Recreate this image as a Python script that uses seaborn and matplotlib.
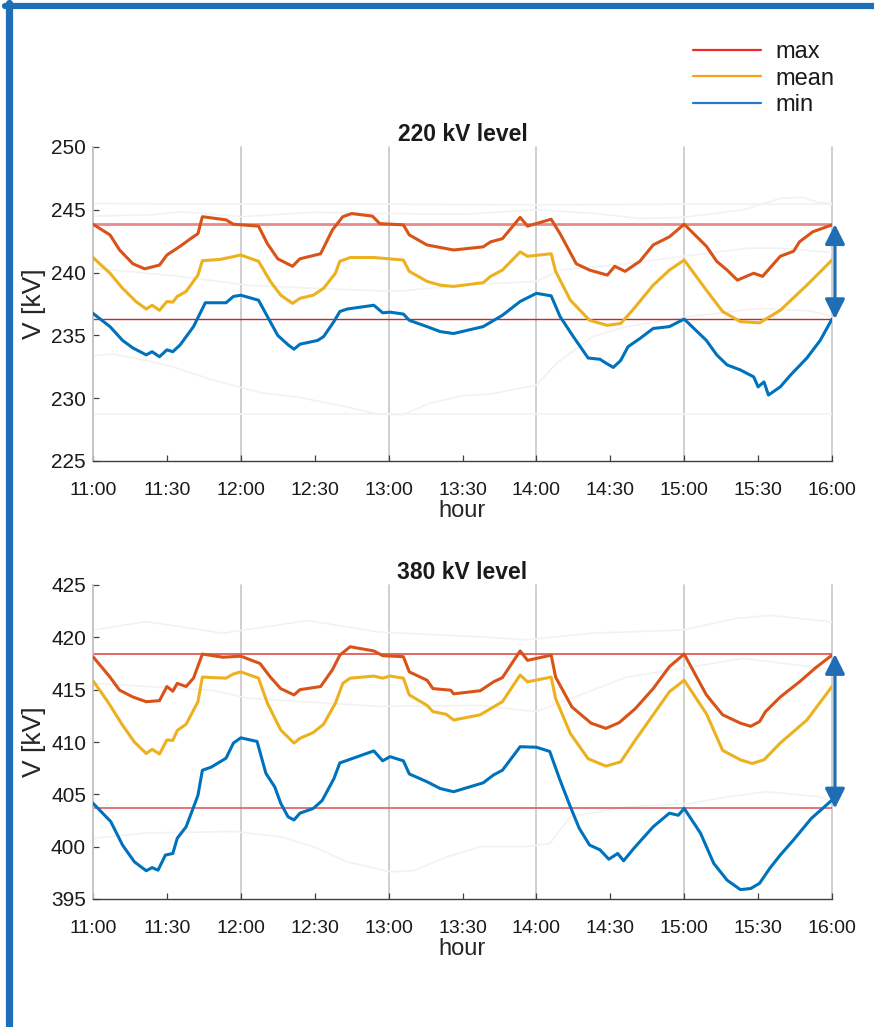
import matplotlib
matplotlib.use("Agg")
import matplotlib.pyplot as plt
import seaborn as sns
from matplotlib.lines import Line2D

# hour axis
hour_ticks = [11, 12, 13, 14, 15, 16]
hour_labels = ["11:00", "12:00", "13:00", "14:00", "15:00", "16:00"]
half_ticks = [11.5, 12.5, 13.5, 14.5, 15.5]
half_labels = ["11:30", "12:30", "13:30", "14:30", "15:30"]

# 220 kV level
t220_max = [11.0, 11.115, 11.18, 11.27, 11.35, 11.45, 11.5, 11.59, 11.66, 11.71, 11.74, 11.9, 11.95, 12.12,
            12.18, 12.25, 12.35, 12.4, 12.54, 12.62, 12.69, 12.75, 12.89, 12.94, 13.1, 13.14, 13.26, 13.44,
            13.64, 13.69, 13.77, 13.89, 13.94, 14.1, 14.16, 14.27, 14.36, 14.48, 14.53, 14.6, 14.7, 14.79,
            14.9, 15.0, 15.15, 15.22, 15.29, 15.36, 15.47, 15.53, 15.65, 15.74, 15.78, 15.87, 16.0]
v220_max = [243.85, 243.0, 241.8, 240.7, 240.3, 240.6, 241.4, 242.1, 242.7, 243.1, 244.45, 244.2, 243.85, 243.7,
            242.3, 241.1, 240.5, 241.1, 241.5, 243.4, 244.45, 244.7, 244.5, 243.9, 243.8, 243.0, 242.2, 241.8,
            242.05, 242.45, 242.7, 244.4, 243.7, 244.25, 243.1, 240.7, 240.2, 239.8, 240.5, 240.1, 240.9, 242.2,
            242.85, 243.85, 242.1, 240.9, 240.2, 239.4, 239.95, 239.7, 241.3, 241.7, 242.45, 243.25, 243.8]

t220_mean = [11.0, 11.115, 11.2, 11.29, 11.36, 11.4, 11.45, 11.5, 11.54, 11.57, 11.63, 11.71, 11.74, 11.86,
             12.0, 12.12, 12.2, 12.27, 12.35, 12.4, 12.49, 12.56, 12.64, 12.67, 12.74, 12.9, 13.1, 13.14,
             13.26, 13.35, 13.44, 13.64, 13.69, 13.77, 13.89, 13.94, 14.1, 14.13, 14.23, 14.36, 14.48, 14.57,
             14.65, 14.79, 14.9, 15.0, 15.15, 15.26, 15.38, 15.51, 15.65, 15.83, 16.0]
v220_mean = [241.2, 239.95, 238.75, 237.7, 237.1, 237.4, 237.0, 237.7, 237.65, 238.1, 238.5, 239.8, 240.95, 241.05,
             241.4, 240.9, 239.3, 238.2, 237.55, 237.95, 238.2, 238.75, 239.95, 240.9, 241.2, 241.2, 241.0, 240.1,
             239.3, 239.0, 238.9, 239.2, 239.7, 240.2, 241.65, 241.3, 241.5, 240.1, 237.8, 236.2, 235.8, 235.95,
             237.0, 239.0, 240.2, 241.0, 238.6, 236.9, 236.1, 236.0, 237.0, 239.0, 241.0]

t220_min = [11.0, 11.115, 11.2, 11.27, 11.36, 11.4, 11.45, 11.5, 11.54, 11.59, 11.68, 11.76, 11.9, 11.95, 12.0,
            12.12, 12.18, 12.25, 12.32, 12.36, 12.4, 12.52, 12.56, 12.63, 12.67, 12.72, 12.9, 12.96, 13.01, 13.1,
            13.14, 13.26, 13.35, 13.44, 13.64, 13.77, 13.89, 14.0, 14.1, 14.16, 14.25, 14.35, 14.43, 14.47, 14.52,
            14.57, 14.62, 14.7, 14.79, 14.9, 15.0, 15.15, 15.22, 15.29, 15.38, 15.47, 15.5, 15.54, 15.57, 15.65,
            15.72, 15.83, 15.92, 16.0]
v220_min = [236.75, 235.7, 234.6, 234.0, 233.45, 233.7, 233.3, 233.85, 233.7, 234.25, 235.7, 237.6, 237.6, 238.1,
            238.2, 237.8, 236.5, 235.0, 234.25, 233.9, 234.3, 234.6, 234.9, 236.1, 236.9, 237.1, 237.4, 236.8,
            236.85, 236.7, 236.2, 235.7, 235.3, 235.15, 235.7, 236.6, 237.7, 238.35, 238.15, 236.5, 234.9, 233.2,
            233.1, 232.8, 232.45, 233.0, 234.1, 234.75, 235.55, 235.7, 236.3, 234.6, 233.45, 232.65, 232.25, 231.7,
            230.9, 231.3, 230.25, 230.9, 231.85, 233.2, 234.6, 236.3]

# other buses at 220 kV (faint background)
t220_bg1 = [11.0, 12.0, 13.0, 14.0, 15.0, 16.0]
v220_bg1 = [245.5, 245.45, 245.45, 245.4, 245.45, 245.45]
t220_bg2 = [11.0, 11.4, 11.6, 12.0, 12.5, 13.0, 13.5, 14.0, 14.4, 14.7, 15.0, 15.4, 15.65, 15.8, 15.9, 16.0]
v220_bg2 = [244.5, 244.6, 244.85, 244.45, 244.8, 244.7, 244.65, 245.0, 244.7, 244.3, 244.4, 245.0, 245.9, 246.0,
            245.6, 245.5]
t220_bg3 = [11.0, 11.59, 12.04, 12.49, 12.94, 13.1, 13.4, 13.48, 14.0, 14.16, 14.61, 14.99, 15.44, 15.65, 16.0]
v220_bg3 = [240.35, 239.7, 239.0, 238.75, 238.55, 238.55, 238.9, 239.0, 239.3, 240.2, 240.7, 241.3, 241.95,
            241.95, 241.6]
t220_bg4 = [11.0, 11.14, 11.36, 11.54, 11.81, 12.15, 12.38, 12.72, 12.94, 13.1, 13.28, 13.5, 13.7, 14.0, 14.14,
            14.38, 14.61, 15.03, 15.51, 15.85, 16.0]
v220_bg4 = [233.4, 233.5, 233.0, 232.5, 231.45, 230.4, 230.1, 229.3, 228.7, 228.7, 229.6, 230.2, 230.35, 231.05,
            232.8, 234.9, 235.7, 236.5, 237.15, 236.95, 236.5]
t220_bg5 = [11.0, 12.5, 14.0, 16.0]
v220_bg5 = [228.75, 228.75, 228.75, 228.75]

# 380 kV level
t380_max = [11.0, 11.115, 11.18, 11.27, 11.36, 11.45, 11.5, 11.54, 11.57, 11.63, 11.68, 11.74, 11.88, 12.0,
            12.13, 12.2, 12.27, 12.36, 12.4, 12.54, 12.62, 12.67, 12.74, 12.9, 12.96, 13.1, 13.14, 13.26, 13.3,
            13.42, 13.44, 13.62, 13.71, 13.77, 13.89, 13.94, 14.1, 14.13, 14.24, 14.37, 14.47, 14.56, 14.67,
            14.79, 14.9, 15.0, 15.15, 15.26, 15.38, 15.45, 15.51, 15.55, 15.65, 15.78, 15.89, 16.0]
v380_max = [418.15, 416.2, 414.95, 414.3, 413.85, 413.95, 415.3, 414.85, 415.6, 415.3, 416.1, 418.4, 418.1, 418.2,
            417.5, 416.2, 415.1, 414.5, 415.0, 415.3, 416.9, 418.3, 419.1, 418.7, 418.25, 418.15, 416.7, 415.9,
            415.1, 414.95, 414.6, 414.9, 415.75, 416.15, 418.7, 417.8, 418.3, 416.2, 413.35, 411.8, 411.3, 411.85,
            413.2, 415.1, 417.2, 418.4, 414.5, 412.6, 411.8, 411.5, 411.95, 412.9, 414.3, 415.75, 417.1, 418.3]

t380_mean = [11.0, 11.1, 11.2, 11.28, 11.36, 11.4, 11.45, 11.5, 11.54, 11.57, 11.63, 11.71, 11.74, 11.9, 11.95,
             12.0, 12.12, 12.18, 12.27, 12.36, 12.4, 12.49, 12.56, 12.64, 12.69, 12.74, 12.9, 12.96, 13.01, 13.1,
             13.14, 13.26, 13.3, 13.39, 13.44, 13.62, 13.71, 13.77, 13.89, 13.94, 14.1, 14.13, 14.23, 14.35,
             14.47, 14.57, 14.67, 14.79, 14.9, 15.0, 15.15, 15.26, 15.38, 15.46, 15.54, 15.65, 15.83, 16.0]
v380_mean = [415.85, 413.85, 411.6, 410.0, 408.9, 409.3, 408.85, 410.2, 410.15, 411.1, 411.7, 413.85, 416.2,
             416.1, 416.5, 416.7, 416.1, 413.7, 411.15, 409.9, 410.35, 410.9, 411.7, 413.7, 415.6, 416.1, 416.3,
             416.1, 416.3, 416.1, 414.5, 413.5, 412.9, 412.65, 412.1, 412.6, 413.35, 413.85, 416.4, 415.75, 416.2,
             414.15, 410.8, 408.4, 407.7, 408.1, 410.2, 412.6, 414.8, 415.9, 412.7, 409.2, 408.3, 407.95, 408.3,
             409.9, 412.1, 415.3]

t380_min = [11.0, 11.12, 11.2, 11.28, 11.36, 11.4, 11.44, 11.49, 11.54, 11.57, 11.63, 11.71, 11.74, 11.8, 11.9,
            11.95, 12.0, 12.11, 12.17, 12.23, 12.27, 12.32, 12.36, 12.4, 12.49, 12.55, 12.63, 12.67, 12.72, 12.9,
            12.96, 13.01, 13.1, 13.14, 13.26, 13.35, 13.44, 13.64, 13.71, 13.77, 13.89, 14.0, 14.09, 14.16,
            14.23, 14.29, 14.36, 14.43, 14.49, 14.55, 14.59, 14.66, 14.79, 14.9, 14.96, 15.0, 15.11, 15.2, 15.29,
            15.38, 15.45, 15.51, 15.58, 15.65, 15.74, 15.86, 16.0]
v380_min = [404.15, 402.4, 400.15, 398.55, 397.7, 398.0, 397.75, 399.2, 399.35, 400.8, 401.9, 404.9, 407.3, 407.6,
            408.45, 409.9, 410.4, 410.05, 407.0, 405.7, 404.15, 402.85, 402.55, 403.2, 403.65, 404.4, 406.5, 408.0,
            408.25, 409.15, 408.2, 408.6, 408.2, 406.95, 406.2, 405.55, 405.25, 406.1, 406.85, 407.3, 409.55,
            409.5, 409.1, 406.35, 403.8, 401.75, 400.15, 399.7, 398.8, 399.35, 398.65, 399.85, 401.9, 403.2,
            403.0, 403.65, 401.3, 398.4, 396.8, 395.9, 396.0, 396.5, 397.95, 399.2, 400.65, 402.7, 404.45]

# other buses at 380 kV (faint background)
t380_bg1 = [11.0, 11.36, 11.88, 12.45, 12.94, 13.62, 13.93, 14.38, 14.99, 15.35, 15.58, 15.92, 16.0]
v380_bg1 = [420.7, 421.5, 420.4, 421.6, 420.5, 420.05, 419.75, 420.4, 420.7, 421.8, 422.1, 421.6, 421.45]
t380_bg2 = [11.0, 11.81, 12.04, 12.94, 13.62, 14.0, 14.61, 15.06, 15.4, 15.85, 16.0]
v380_bg2 = [415.6, 414.95, 414.2, 413.4, 413.5, 412.9, 416.2, 417.2, 418.0, 417.2, 416.9]
t380_bg3 = [11.0, 11.36, 11.95, 12.27, 12.49, 12.72, 13.01, 13.17, 13.4, 13.62, 13.93, 14.09, 14.23, 14.61,
            15.03, 15.29, 15.56, 15.92, 16.0]
v380_bg3 = [400.8, 401.3, 401.45, 400.95, 400.0, 398.55, 397.6, 397.7, 399.05, 400.0, 400.0, 400.3, 402.85,
            403.8, 404.1, 404.75, 405.25, 404.75, 404.3]

# reference levels (values at 15:00)
ref220 = [243.85, 236.3]
ref380 = [418.4, 403.65]

c_max = "#D95319"
c_mean = "#EDB120"
c_min = "#0072BD"
c_bg = "#f2f2f2"

sns.set_theme(style="white")
plt.rcParams["font.family"] = ["Liberation Sans", "DejaVu Sans"]
plt.rcParams["text.color"] = "#1a1a1a"

fig = plt.figure(figsize=(8.74, 10.27), dpi=100)
ax1 = fig.add_axes([93 / 874, 1 - 461 / 1027, 739 / 874, 314 / 1027])
ax2 = fig.add_axes([93 / 874, 1 - 899 / 1027, 739 / 874, 314 / 1027])


def draw_panel(ax, bg, curves, refs, ylim, yticks, title, ref_styles):
    for t, v in bg:
        sns.lineplot(x=t, y=v, ax=ax, color=c_bg, linewidth=1.2, estimator=None, sort=False, zorder=1)
    for h in hour_ticks:
        ax.axvline(h, color="#cccccc", lw=1.3, zorder=0.5, clip_on=False)
    for (t, v), c in zip(curves, [c_max, c_mean, c_min]):
        sns.lineplot(x=t, y=v, ax=ax, color=c, linewidth=2.2, estimator=None, sort=False, zorder=3)
    for r, (rc, rlw) in zip(refs, ref_styles):
        ax.axhline(r, color=rc, lw=rlw, zorder=2.5)
    ax.annotate("", xy=(16.02, refs[1]), xytext=(16.02, refs[0]),
                arrowprops=dict(arrowstyle="<|-|>,head_length=1.0,head_width=0.5", mutation_scale=12,
                                color="#1f6db5", lw=2.3, shrinkA=0, shrinkB=0),
                annotation_clip=False, zorder=5)

    ax.set_xlim(11, 16)
    ax.set_ylim(*ylim)
    ax.set_yticks(yticks)
    ax.set_xticks(hour_ticks)
    ax.set_xticklabels(hour_labels)
    ax.set_xticks(half_ticks, minor=True)
    ax.set_xticklabels(half_labels, minor=True)
    ax.tick_params(axis="x", which="both", direction="in", length=4.5, width=0.9, pad=15,
                   labelsize=14, bottom=True, color="#404040", labelcolor="#1a1a1a")
    ax.tick_params(axis="y", direction="in", length=4.5, width=0.9, pad=5,
                   labelsize=15, left=True, color="#404040", labelcolor="#1a1a1a")
    sns.despine(ax=ax)
    ax.spines["left"].set_color("#c4c4c4")
    ax.spines["left"].set_linewidth(1.3)
    ax.spines["bottom"].set_color("#404040")
    ax.spines["bottom"].set_linewidth(1.0)

    ax.set_title(title, fontsize=16.5, fontweight="bold", pad=4)
    ax.set_xlabel("hour", fontsize=17)
    ax.set_ylabel("V [kV]", fontsize=19)
    ax.xaxis.set_label_coords(0.5, -0.125)
    ax.yaxis.set_label_coords(-0.064, 0.5)


draw_panel(ax1,
           [(t220_bg1, v220_bg1), (t220_bg2, v220_bg2), (t220_bg3, v220_bg3), (t220_bg4, v220_bg4),
            (t220_bg5, v220_bg5)],
           [(t220_max, v220_max), (t220_mean, v220_mean), (t220_min, v220_min)],
           ref220, (225, 250), [225, 230, 235, 240, 245, 250], "220 kV level",
           [("#e98a8a", 2.0), ("#c42a2a", 1.0)])
draw_panel(ax2,
           [(t380_bg1, v380_bg1), (t380_bg2, v380_bg2), (t380_bg3, v380_bg3)],
           [(t380_max, v380_max), (t380_mean, v380_mean), (t380_min, v380_min)],
           ref380, (395, 425), [395, 400, 405, 410, 415, 420, 425], "380 kV level",
           [("#e05a5a", 1.3), ("#e06a6a", 1.3)])

handles = [Line2D([], [], color="#ee2a24", lw=1.6),
           Line2D([], [], color="#f9a11b", lw=1.6),
           Line2D([], [], color="#2878c8", lw=1.6)]
fig.legend(handles, ["max", "mean", "min"], loc="upper left", bbox_to_anchor=(693 / 874, 1 - 41 / 1027),
           frameon=False, borderpad=0, borderaxespad=0, handlelength=2.9, handletextpad=0.6,
           labelspacing=0.2, fontsize=17)

# blue window frame
fig.add_artist(Line2D([5 / 874, 1], [1 - 6 / 1027, 1 - 6 / 1027], color="#1f6eb8", lw=4.5,
                      transform=fig.transFigure))
fig.add_artist(Line2D([8.5 / 874, 8.5 / 874], [0, 1 - 3 / 1027], color="#1f6eb8", lw=5.2,
                      transform=fig.transFigure))

fig.savefig("out.png", dpi=100)
